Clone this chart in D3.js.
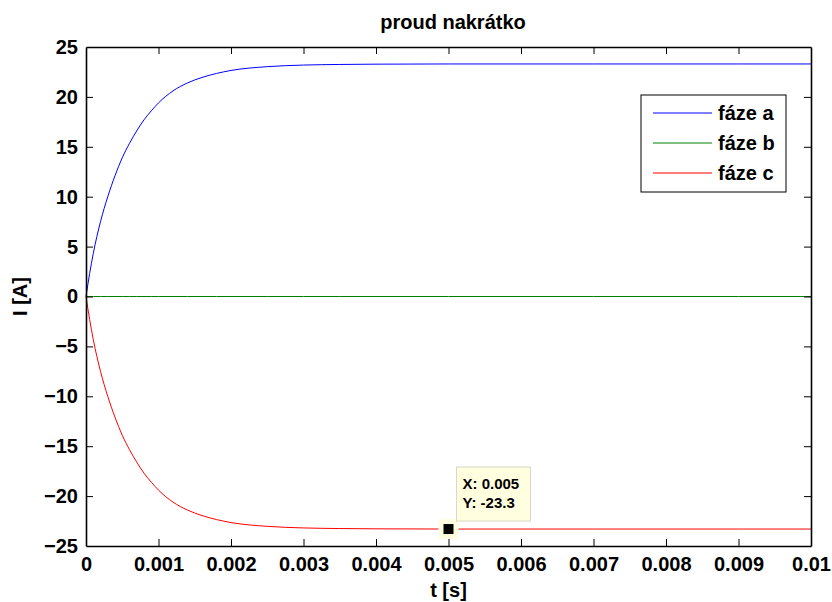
<!DOCTYPE html>
<html>
<head>
<meta charset="utf-8">
<script src="https://cdn.jsdelivr.net/npm/d3@7"></script>
<style>
  html, body { margin: 0; padding: 0; background: #fff; }
  svg text { font-family: "Liberation Sans", Arial, Helvetica, sans-serif; font-weight: bold; fill: #000; }
</style>
</head>
<body>
<svg id="chart" width="832" height="602"></svg>
<script>
// ---- data ----
const time   = [0, 0.00005, 0.0001, 0.0002, 0.0003, 0.0004, 0.0005, 0.0006, 0.0007, 0.0008, 0.0009, 0.001, 0.0012, 0.0014, 0.0016, 0.0018, 0.002, 0.0025, 0.003, 0.0035, 0.004, 0.005, 0.006, 0.007, 0.008, 0.009, 0.01];
const phaseA = [0, 2.3, 4.3, 7.5, 10.0, 12.1, 13.9, 15.35, 16.6, 17.7, 18.6, 19.4, 20.6, 21.4, 21.95, 22.35, 22.65, 23.03, 23.19, 23.25, 23.28, 23.3, 23.3, 23.3, 23.3, 23.3, 23.3];
const phaseB = [0, 0, 0, 0, 0, 0, 0, 0, 0, 0, 0, 0, 0, 0, 0, 0, 0, 0, 0, 0, 0, 0, 0, 0, 0, 0, 0];
const phaseC = [0, -2.3, -4.3, -7.5, -10.0, -12.1, -13.9, -15.35, -16.6, -17.7, -18.6, -19.4, -20.6, -21.4, -21.95, -22.35, -22.65, -23.03, -23.19, -23.25, -23.28, -23.3, -23.3, -23.3, -23.3, -23.3, -23.3];
const seriesNames = ["fáze a", "fáze b", "fáze c"];
const seriesColors = ["#0000ff", "#008000", "#ff0000"];
const xTicks = [0, 0.001, 0.002, 0.003, 0.004, 0.005, 0.006, 0.007, 0.008, 0.009, 0.01];
const xTickLabels = ["0", "0.001", "0.002", "0.003", "0.004", "0.005", "0.006", "0.007", "0.008", "0.009", "0.01"];
const yTicks = [-25, -20, -15, -10, -5, 0, 5, 10, 15, 20, 25];
const datatip = { x: 0.005, y: -23.3, labels: ["X: 0.005", "Y: -23.3"] };
const titleText = "proud nakrátko";
const xLabel = "t [s]";
const yLabel = "I [A]";

// ---- layout ----
const svg = d3.select("#chart");
const L = 86, R = 811, T = 47, B = 546;
const x = d3.scaleLinear().domain([0, 0.01]).range([L, R]);
const y = d3.scaleLinear().domain([-25, 25]).range([B, T]);
const tickLen = 7;

// lines
const allSeries = [phaseA, phaseB, phaseC];
const line = d3.line().x((d, i) => x(time[i])).y(d => y(d)).curve(d3.curveMonotoneX);
const plot = svg.append("g");
[1, 0, 2].forEach(k => {
  plot.append("path")
    .datum(allSeries[k])
    .attr("fill", "none")
    .attr("stroke", seriesColors[k])
    .attr("stroke-width", 1)
    .attr("d", line);
});

// axes (box with inward ticks)
const axG = svg.append("g");
const axBottom = axG.append("g").attr("transform", `translate(0,${B})`)
  .call(d3.axisBottom(x).tickValues(xTicks).tickFormat((d, i) => xTickLabels[i]).tickSizeInner(-tickLen).tickSizeOuter(0).tickPadding(11));
const axTop = axG.append("g").attr("transform", `translate(0,${T})`)
  .call(d3.axisTop(x).tickValues(xTicks).tickFormat("").tickSizeInner(-tickLen).tickSizeOuter(0));
const axLeft = axG.append("g").attr("transform", `translate(${L},0)`)
  .call(d3.axisLeft(y).tickValues(yTicks).tickFormat(d3.format("d")).tickSizeInner(-tickLen).tickSizeOuter(0).tickPadding(8));
const axRight = axG.append("g").attr("transform", `translate(${R},0)`)
  .call(d3.axisRight(y).tickValues(yTicks).tickFormat("").tickSizeInner(-tickLen).tickSizeOuter(0));
axG.selectAll(".domain").attr("stroke", "#000").attr("stroke-width", 1.6);
axG.selectAll(".tick line").attr("stroke", "#000").attr("stroke-width", 1);
axG.selectAll(".tick text")
  .style("font-family", "'Liberation Sans', Arial, sans-serif")
  .style("font-weight", "bold").style("font-size", "20px").attr("fill", "#000");
axBottom.selectAll(".tick text").attr("dy", "0.71em");
// hide end ticks that coincide with box edges
[axBottom, axTop].forEach(g => g.selectAll(".tick line").filter(d => d === 0 || d === 0.01).remove());
[axLeft, axRight].forEach(g => g.selectAll(".tick line").filter(d => d === -25 || d === 25).remove());

// title & labels
svg.append("text").attr("x", 453).attr("y", 29).attr("text-anchor", "middle")
  .style("font-size", "20px").text(titleText);
svg.append("text").attr("x", (L + R) / 2).attr("y", 597).attr("text-anchor", "middle")
  .style("font-size", "20px").text(xLabel);
svg.append("text").attr("transform", `translate(27,${(T + B) / 2}) rotate(-90)`).attr("text-anchor", "middle")
  .style("font-size", "20px").text(yLabel);

// legend
const lg = svg.append("g").attr("transform", "translate(641,95)");
lg.append("rect").attr("width", 145).attr("height", 97).attr("fill", "#fff").attr("stroke", "#000").attr("stroke-width", 1);
seriesNames.forEach((name, i) => {
  const yy = 18 + i * 30;
  lg.append("line").attr("x1", 12).attr("x2", 71).attr("y1", yy).attr("y2", yy)
    .attr("stroke", seriesColors[i]).attr("stroke-width", 1);
  lg.append("text").attr("x", 77).attr("y", yy + 7).style("font-size", "20px").text(name);
});

// datatip
const px = x(datatip.x), py = y(datatip.y);
const dt = svg.append("g");
dt.append("rect").attr("x", px - 10).attr("y", py - 10).attr("width", 20).attr("height", 20)
  .attr("fill", "#ffffe0");
dt.append("rect").attr("x", px - 5).attr("y", py - 5).attr("width", 10).attr("height", 10)
  .attr("fill", "#000");
dt.append("rect").attr("x", px + 8).attr("y", py - 62).attr("width", 74).attr("height", 54)
  .attr("fill", "#ffffe0").attr("stroke", "#d8d8c8").attr("stroke-width", 1);
datatip.labels.forEach((t, i) => {
  dt.append("text").attr("x", px + 14).attr("y", py - 40 + i * 19).style("font-size", "15px").text(t);
});
</script>
</body>
</html>
